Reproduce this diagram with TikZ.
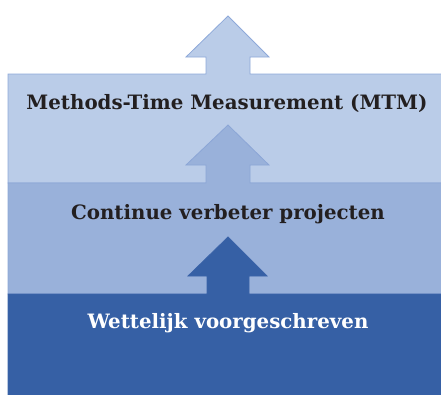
\documentclass[tikz,border=0pt]{standalone}
\usepackage{fontspec}
\setmainfont{DejaVu Serif}
\definecolor{lightL}{HTML}{BACCE8}
\definecolor{midL}{HTML}{99B1DA}
\definecolor{darkL}{HTML}{3660A5}
\definecolor{edgeL}{HTML}{8EA9D9}
\definecolor{edgeM}{HTML}{8CA6D6}
\definecolor{edgeD}{HTML}{3A63A8}
\definecolor{txt}{HTML}{231F20}
\tikzset{
  layer/.style={line width=0.8pt, line join=miter},
  lbl/.style={font=\bfseries\fontsize{19.8}{23}\selectfont, anchor=center, inner sep=0pt}
}
\begin{document}
\begin{tikzpicture}[x=1pt,y=-1pt]
\useasboundingbox (0,0) rectangle (441,394);
\clip (0,0) rectangle (441,394);
% top layer
\draw[layer, fill=lightL, draw=edgeL]
  (8,183) -- (8,74) -- (206,74) -- (206,57) -- (186,57) -- (228,16) -- (269,57) -- (250,57) -- (250,74) -- (445,74) -- (445,183) -- cycle;
% middle layer
\draw[layer, fill=midL, draw=edgeM]
  (8,294) -- (8,183) -- (206,183) -- (206,165) -- (186,165) -- (228,125) -- (269,165) -- (250,165) -- (250,183) -- (445,183) -- (445,294) -- cycle;
% bottom layer
\draw[layer, fill=darkL, draw=edgeD]
  (8,400) -- (8,294) -- (207,294) -- (207,276) -- (188,276) -- (228,237) -- (267,276) -- (249,276) -- (249,294) -- (445,294) -- (445,400) -- cycle;
\node[lbl, text=txt] (mtm) at (227,104) {Methods-Time Measurement (MTM)};
\node[lbl, text=txt] (cvp) at (228,214) {Continue verbeter projecten};
\node[lbl, text=white] (wv) at (228,323) {Wettelijk voorgeschreven};
\end{tikzpicture}
\end{document}
